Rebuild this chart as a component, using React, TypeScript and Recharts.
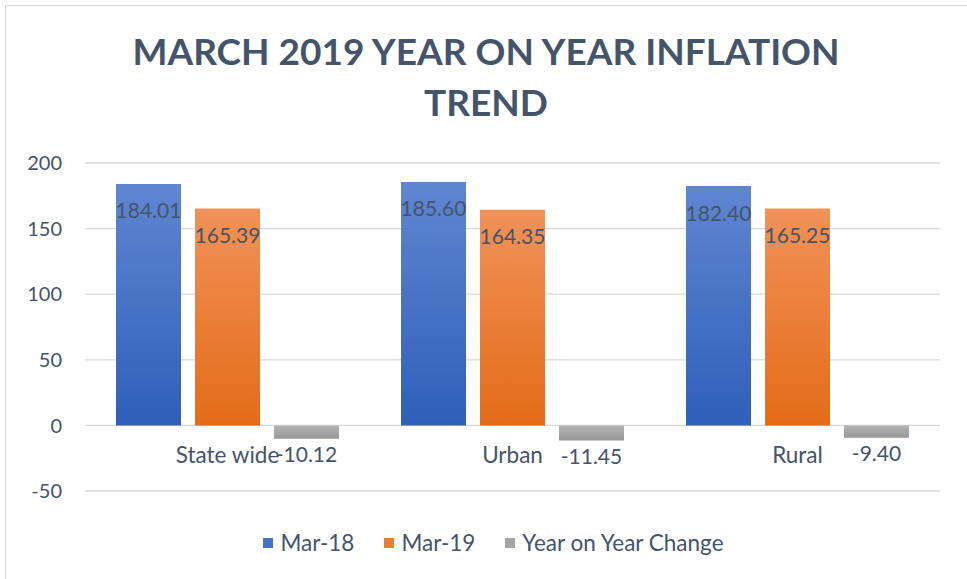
import React from 'react';
import { BarChart, Bar, XAxis, YAxis, CartesianGrid, Legend, LabelList } from 'recharts';

const categories = ['State wide', 'Urban', 'Rural'];
const mar18 = [184.01, 185.6, 182.4];
const mar19 = [165.39, 164.35, 165.25];
const yoyChange = [-10.12, -11.45, -9.4];
const yTicks = [-50, 0, 50, 100, 150, 200];

const data = categories.map((name, i) => ({
  name,
  mar18: mar18[i],
  mar19: mar19[i],
  yoy: yoyChange[i],
}));

const TEXT = '#44546a';
const FONT = 'Lato, "Open Sans", sans-serif';
const legendColors: Record<string, string> = {
  'Mar-18': '#4472c4',
  'Mar-19': '#ed7d31',
  'Year on Year Change': '#a5a5a5',
};

const BarLabel = (props: any) => {
  const { x, y, width, height, value } = props;
  const nx = Number(x), ny = Number(y), nw = Number(width), nh = Number(height);
  const top = Math.min(ny, ny + nh);
  const bottom = Math.max(ny, ny + nh);
  const cy = value < 0 ? bottom + 15 : top + 26;
  return (
    <text x={nx + nw / 2} y={cy} textAnchor="middle" dominantBaseline="central"
      fill={TEXT} fontSize={21} fontFamily={FONT}>
      {Number(value).toFixed(2)}
    </text>
  );
};

const CatTick = (props: any) => {
  const { x, y, payload } = props;
  return (
    <text x={x} y={y} dy={-45} textAnchor="middle" dominantBaseline="central"
      fill={TEXT} fontSize={22.5} fontFamily={FONT}>
      {payload.value}
    </text>
  );
};

const LegendContent = (props: any) => {
  const { payload } = props;
  return (
    <div style={{ display: 'flex', justifyContent: 'center', gap: 30, fontFamily: FONT, fontSize: 22.5, color: TEXT }}>
      {(payload || []).map((p: any) => (
        <div key={p.value} style={{ display: 'flex', alignItems: 'center' }}>
          <span style={{ width: 10, height: 10, background: legendColors[p.value] || '#999', display: 'inline-block', marginRight: 7 }} />
          <span>{p.value}</span>
        </div>
      ))}
    </div>
  );
};

export default function App() {
  return (
    <div style={{ position: 'absolute', left: 0, top: 0, width: 967, height: 579, background: '#fff', overflow: 'hidden' }}>
      <div style={{ position: 'absolute', left: 5, top: 5, width: 1000, height: 600, border: '1px solid #d9d9d9' }} />
      <div style={{ position: 'absolute', left: 0, top: 25, width: 972, textAlign: 'center', fontFamily: FONT, fontWeight: 700, fontSize: 37, lineHeight: '51px', color: TEXT }}>
        MARCH 2019 YEAR ON YEAR INFLATION<br />TREND
      </div>
      <div style={{ position: 'absolute', left: 0, top: 0 }}>
        <BarChart width={967} height={579} data={data}
          margin={{ top: 163, right: 27, left: 25, bottom: 58 }}
          barCategoryGap={31} barGap={14}>
          <defs>
            <linearGradient id="gBlue" x1="0" y1="0" x2="0" y2="1">
              <stop offset="0%" stopColor="#5f86d1" />
              <stop offset="100%" stopColor="#2f5fb9" />
            </linearGradient>
            <linearGradient id="gOrange" x1="0" y1="0" x2="0" y2="1">
              <stop offset="0%" stopColor="#f19259" />
              <stop offset="100%" stopColor="#e46c18" />
            </linearGradient>
            <linearGradient id="gGray" x1="0" y1="0" x2="0" y2="1">
              <stop offset="0%" stopColor="#b4b4b4" />
              <stop offset="100%" stopColor="#989898" />
            </linearGradient>
          </defs>
          <CartesianGrid vertical={false} stroke="#d9d9d9" strokeWidth={1.3} />
          <XAxis dataKey="name" axisLine={false} tickLine={false} tick={<CatTick />} interval={0} />
          <YAxis width={60} domain={[-50, 200]} ticks={yTicks} interval={0} axisLine={false} tickLine={false}
            tick={{ fill: TEXT, fontSize: 20, fontFamily: FONT }} tickMargin={17} />
          <Legend verticalAlign="middle" layout="horizontal" content={<LegendContent />}
            wrapperStyle={{ top: 529, left: 10, width: 967, height: 30 }} />
          <Bar dataKey="mar18" name="Mar-18" fill="url(#gBlue)" isAnimationActive={false}>
            <LabelList dataKey="mar18" content={<BarLabel />} />
          </Bar>
          <Bar dataKey="mar19" name="Mar-19" fill="url(#gOrange)" isAnimationActive={false}>
            <LabelList dataKey="mar19" content={<BarLabel />} />
          </Bar>
          <Bar dataKey="yoy" name="Year on Year Change" fill="url(#gGray)" isAnimationActive={false}>
            <LabelList dataKey="yoy" content={<BarLabel />} />
          </Bar>
        </BarChart>
      </div>
    </div>
  );
}
